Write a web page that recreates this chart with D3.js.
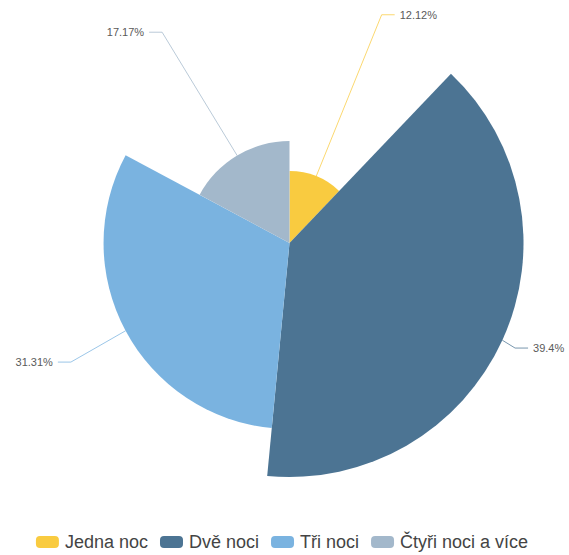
<!DOCTYPE html>
<html>
<head>
<meta charset="utf-8">
<script src="https://cdn.jsdelivr.net/npm/d3@7"></script>
<style>
  body { margin: 0; background: #fff; }
  svg { display: block; font-family: "Liberation Sans", Arial, sans-serif; }
</style>
</head>
<body>
<script>
var svgWidth = 569;
var svgHeight = 555;

// data
var categories = ["Jedna noc", "Dvě noci", "Tři noci", "Čtyři noci a více"];
var values = [12.12, 39.4, 31.31, 17.17];
var labels = ["12.12%", "39.4%", "31.31%", "17.17%"];
var colors = ["#f9cb40", "#4c7493", "#7ab3e0", "#a3b8cb"];

var cx = 289.5, cy = 243;
var maxR = 234;
var elbowR = 248;

var svg = d3.select("body").append("svg").attr("width", svgWidth).attr("height", svgHeight);

var rows = categories.map(function(c, i) {
  return {name: c, value: values[i], label: labels[i], color: colors[i]};
});

// rose chart: angle by value, radius by value too
var pie = d3.pie().sort(null).value(function(d) { return d.value; });
var rScale = d3.scaleLinear().domain([0, d3.max(values)]).range([0, maxR]);
var arc = d3.arc().innerRadius(0).outerRadius(function(d) { return rScale(d.data.value); });

var chart = svg.append("g").attr("transform", "translate(" + cx + "," + cy + ")");
var arcs = pie(rows);

chart.selectAll(".slice")
  .data(arcs)
  .enter().append("path")
  .attr("class", "slice")
  .attr("d", arc)
  .attr("fill", function(d) { return d.data.color; });

// label lines
arcs.forEach(function(d) {
  var mid = (d.startAngle + d.endAngle) / 2;
  var r0 = rScale(d.data.value);
  var x0 = Math.sin(mid) * r0, y0 = -Math.cos(mid) * r0;
  var x1 = Math.sin(mid) * elbowR, y1 = -Math.cos(mid) * elbowR + 2;
  var side = Math.sin(mid) >= 0 ? 1 : -1;
  var x2 = x1 + side * 13;
  chart.append("polyline")
    .attr("points", [[x0, y0], [x1, y1], [x2, y1]].map(function(p) { return p.join(","); }).join(" "))
    .attr("fill", "none")
    .attr("stroke", d.data.color)
    .attr("stroke-opacity", 0.75)
    .attr("stroke-width", 1);
  chart.append("text")
    .attr("x", x2 + side * 5)
    .attr("y", y1)
    .attr("dy", "0.35em")
    .attr("text-anchor", side > 0 ? "start" : "end")
    .attr("font-size", 11)
    .attr("fill", "#5a5a5a")
    .text(d.data.label);
});

// legend
var legend = svg.append("g");
var lx = 0;
rows.forEach(function(d) {
  var item = legend.append("g").attr("transform", "translate(" + lx + ",0)");
  item.append("rect")
    .attr("x", 0).attr("y", -6)
    .attr("width", 23).attr("height", 12)
    .attr("rx", 4)
    .attr("fill", d.color);
  var t = item.append("text")
    .attr("x", 29).attr("y", 0)
    .attr("dy", "0.35em")
    .attr("font-size", 18)
    .attr("fill", "#444")
    .text(d.name);
  lx += 29 + t.node().getComputedTextLength() + 12;
});
var legendW = lx - 12;
legend.attr("transform", "translate(" + (282 - legendW / 2) + ",542)");
</script>
</body>
</html>
